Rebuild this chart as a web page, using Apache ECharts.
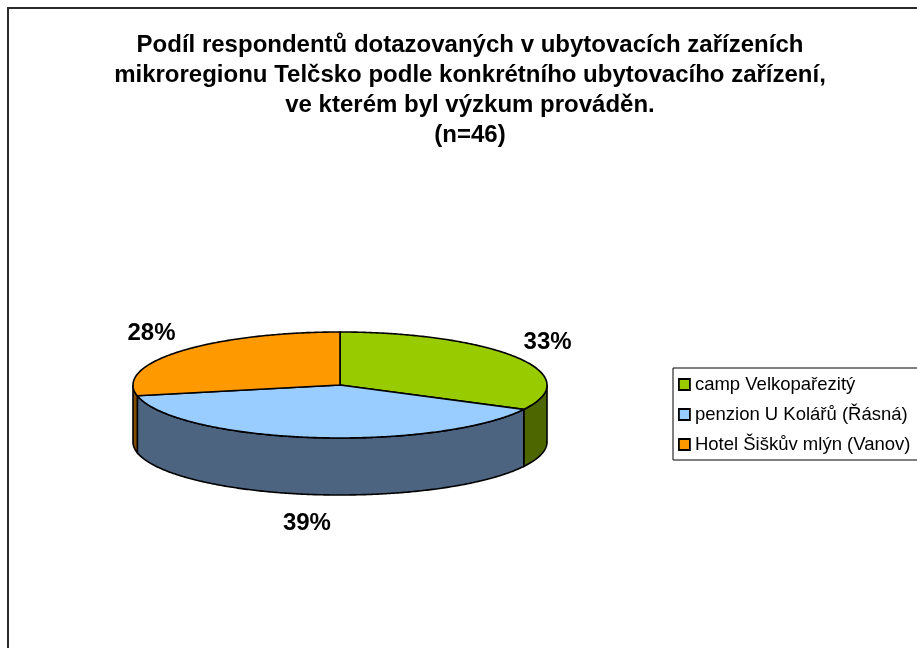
<!DOCTYPE html>
<html>
<head>
<meta charset="utf-8">
<title>Podíl respondentů</title>
<script src="https://cdn.jsdelivr.net/npm/echarts@6/dist/echarts.min.js"></script>
<style>
	html, body {
		margin: 0;
		padding: 0;
		background: #fff;
		overflow: hidden;
	}
	#chart {
		position: absolute;
		left: 0;
		top: 0;
		width: 917px;
		height: 648px;
	}
	/* ramecek kolem grafu (jako v Excelu) */
	.frame {
		position: absolute;
		left: 7px;
		top: 7px;
		width: 1000px;
		height: 800px;
		border: 2px solid #2b2b2b;
	}
</style>
</head>
<body>
<div class="frame"></div>
<div id="chart"></div>
<script>
	// data
	var titleLines = [
		'Podíl respondentů dotazovaných v ubytovacích zařízeních',
		'mikroregionu Telčsko podle konkrétního ubytovacího zařízení,',
		've kterém byl výzkum prováděn.',
		'(n=46)'
	];
	var categories = ['camp Velkopařezitý', 'penzion U Kolářů (Řásná)', 'Hotel Šiškův mlýn (Vanov)'];
	var counts = [15, 18, 13];
	var topColors = ['#99CC00', '#99CCFF', '#FF9900'];
	var sideColors = ['#4D6600', '#4D6480', '#804D00'];

	var total = counts.reduce(function(a, b) { return a + b; }, 0);
	var startFrac = [];
	var acc = 0;
	counts.forEach(function(v) { startFrac.push(acc / total); acc += v; });

	// geometrie kolace
	var pie = { cx: 340, cy: 385, rx: 207, ry: 53, depth: 57, lrx: 243, lry: 82 };
	var font = '"Liberation Sans", Arial, sans-serif';

	function pt(a, rx, ry, dy) {
		return [pie.cx + rx * Math.sin(a), pie.cy - ry * Math.cos(a) + (dy || 0)];
	}

	function arc(a0, a1, dy) {
		var pts = [];
		var n = Math.max(2, Math.ceil((a1 - a0) / 0.01));
		for (var i = 0; i <= n; i++) {
			pts.push(pt(a0 + (a1 - a0) * i / n, pie.rx, pie.ry, dy));
		}
		return pts;
	}

	function renderSlice(params, api) {
		var idx = params.seriesIndex;
		var val = api.value(0);
		var a0 = startFrac[idx] * Math.PI * 2;
		var a1 = a0 + val / total * Math.PI * 2;
		var children = [];

		// bocni stena (jen predni polovina je videt)
		var lo = Math.max(a0, Math.PI / 2);
		var hi = Math.min(a1, Math.PI * 1.5);
		if (lo < hi) {
			var side = arc(lo, hi, 0).concat(arc(lo, hi, pie.depth).reverse());
			children.push({
				type: 'polygon',
				z2: 1,
				shape: { points: side },
				style: { fill: sideColors[idx], stroke: '#000', lineWidth: 1.6 }
			});
		}

		// horni plocha
		var topPts = [[pie.cx, pie.cy]].concat(arc(a0, a1, 0));
		children.push({
			type: 'polygon',
			z2: 10,
			shape: { points: topPts },
			style: { fill: topColors[idx], stroke: '#000', lineWidth: 1.6 }
		});

		// popisek s procenty
		var mid = (a0 + a1) / 2;
		var lp = pt(mid, pie.lrx, pie.lry, Math.cos(mid) < 0 ? pie.depth : 0);
		children.push({
			type: 'text',
			z2: 20,
			style: {
				text: Math.round(val / total * 100) + '%',
				x: lp[0],
				y: lp[1],
				align: 'center',
				verticalAlign: 'middle',
				fontSize: 24,
				fontWeight: 'bold',
				fontFamily: font,
				fill: '#000'
			}
		});

		return { type: 'group', children: children };
	}

	var chart = echarts.init(document.getElementById('chart'));

	var series = categories.map(function(name, i) {
		return {
			name: name,
			type: 'custom',
			coordinateSystem: 'none',
			color: topColors[i],
			renderItem: renderSlice,
			data: [[counts[i]]],
			silent: true
		};
	});

	chart.setOption({
		backgroundColor: 'transparent',
		animation: false,
		title: {
			text: titleLines.join('\n'),
			left: 470,
			top: 30,
			textAlign: 'center',
			padding: 0,
			textStyle: {
				fontFamily: font,
				fontSize: 24,
				fontWeight: 'bold',
				lineHeight: 30,
				color: '#000'
			}
		},
		legend: {
			orient: 'vertical',
			left: 673,
			top: 368,
			padding: [7, 40, 6, 5],
			itemGap: 11,
			itemWidth: 11,
			itemHeight: 11,
			icon: 'rect',
			selectedMode: false,
			borderColor: '#000',
			borderWidth: 1,
			backgroundColor: '#fff',
			itemStyle: { borderColor: '#000', borderWidth: 1.8 },
			textStyle: {
				fontFamily: font,
				fontSize: 18.5,
				lineHeight: 19,
				color: '#000'
			},
			data: categories
		},
		series: series
	});
</script>
</body>
</html>
